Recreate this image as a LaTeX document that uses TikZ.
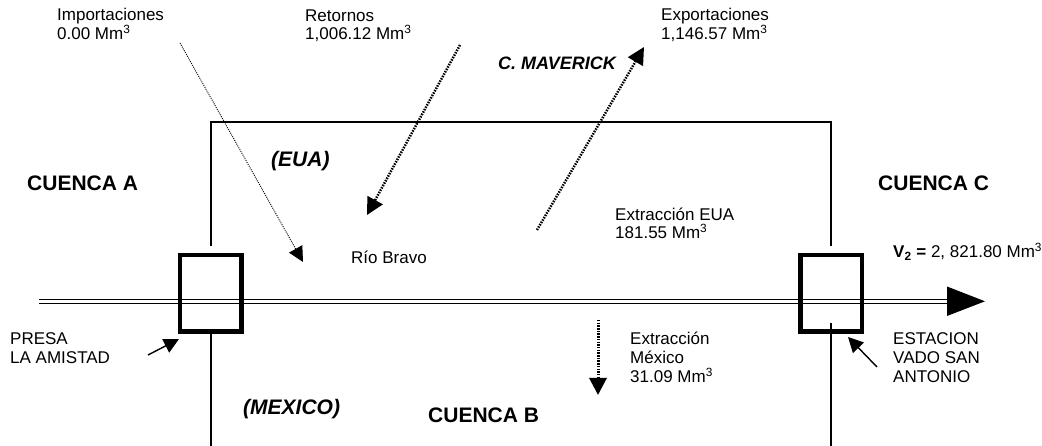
\documentclass[tikz,border=0pt]{standalone}
\usepackage{fontspec}
\setmainfont{Liberation Sans}
\usetikzlibrary{arrows.meta}
\begin{document}
\begin{tikzpicture}[x=1pt,y=-1pt,
  lbl/.style={inner sep=0pt, anchor=base west, align=left, font=\fontsize{17}{18}\selectfont},
  lblb/.style={inner sep=0pt, anchor=base west, align=left, font=\fontsize{17}{19.5}\selectfont},
  big/.style={inner sep=0pt, anchor=base west, font=\fontsize{21}{25}\selectfont\bfseries},
  bigit/.style={inner sep=0pt, anchor=base west, font=\fontsize{21}{25}\selectfont\bfseries\itshape},
  frame/.style={line width=1.2pt},
  gauge/.style={draw, line width=4.5pt, minimum width=61.5pt, minimum height=76.5pt, inner sep=0pt},
  thindot/.style={line width=0.9pt, dash pattern=on 1pt off 1.1pt, -{Triangle[length=15pt,width=15pt]}},
  thickdot/.style={line width=2.5pt, dash pattern=on 1.5pt off 1.2pt, -{Triangle[length=17pt,width=17pt]}},
  pointer/.style={line width=1.4pt, -{Triangle[length=15pt,width=15pt]}},
  river/.style={double, double distance=2.6pt, line width=1.4pt}]
\useasboundingbox (0,0) rectangle (1042,446);
% frame of the region
\draw[frame] (211,246) -- (211,122) -- (831,122) -- (831,246);
\draw[frame] (211,334) -- (211,446);
\draw[frame] (831,323) -- (831,446);
% river
\coordinate (rs) at (39,301.3);
\coordinate (re) at (948,301.3);
\draw[river] (rs) -- (re);
\fill (947,286.5) -- (985,301.3) -- (947,316) -- cycle;
% gauges
\node[gauge] (presa) at (210.5,293.5) {};
\node[gauge] (vado) at (831,293.5) {};
% texts (base anchor = baseline of the last line)
\node[lbl] (imp) at (57,40) {Importaciones\\0.00 Mm\textsuperscript{3}};
\node[lbl] (ret) at (305,40) {Retornos\\1,006.12 Mm\textsuperscript{3}};
\node[lbl] (exp) at (661,40) {Exportaciones\\1,146.57 Mm\textsuperscript{3}};
\node[inner sep=0pt, anchor=base west, font=\fontsize{18}{20}\selectfont\bfseries\itshape] (mav) at (498,69.5) {C. MAVERICK};
\node[bigit] (eua) at (271,167) {(EUA)};
\node[big] (ca) at (27,190.5) {CUENCA A};
\node[big] (cc) at (878,190.5) {CUENCA C};
\node[lbl] (exeua) at (615,239) {Extracción EUA\\181.55 Mm\textsuperscript{3}};
\node[lbl] (rio) at (351,264) {Río Bravo};
\node[lbl] (v2) at (893,258) {\textbf{V\textsubscript{2} =} 2, 821.80 Mm\textsuperscript{3}};
\node[lblb] (presat) at (10,364) {PRESA\\LA AMISTAD};
\node[lblb] (exmx) at (630,383) {Extracción\\México\\31.09 Mm\textsuperscript{3}};
\node[lblb] (estt) at (893,383) {ESTACION\\VADO SAN\\ANTONIO};
\node[bigit] (mex) at (243,414.5) {(MEXICO)};
\node[big] (cb) at (428,422.5) {CUENCA B};
% flow arrows
\coordinate (impA) at (180,43);
\coordinate (impB) at (303,262);
\draw[thindot] (impA) -- (impB);
\coordinate (retA) at (460,45);
\coordinate (retB) at (367,215);
\draw[thickdot] (retA) -- (retB);
\coordinate (expA) at (537,230);
\coordinate (expB) at (644,47);
\draw[thickdot] (expA) -- (expB);
\coordinate (mxA) at (598,320);
\coordinate (mxB) at (598,395);
\draw[thickdot, line width=3pt] (mxA) -- (mxB);
% pointers to gauges
\coordinate (pA) at (148,355);
\coordinate (pB) at (179,339);
\draw[pointer] (pA) -- (pB);
\coordinate (eA) at (877,367);
\coordinate (eB) at (848,337);
\draw[pointer] (eA) -- (eB);
\end{tikzpicture}
\end{document}
